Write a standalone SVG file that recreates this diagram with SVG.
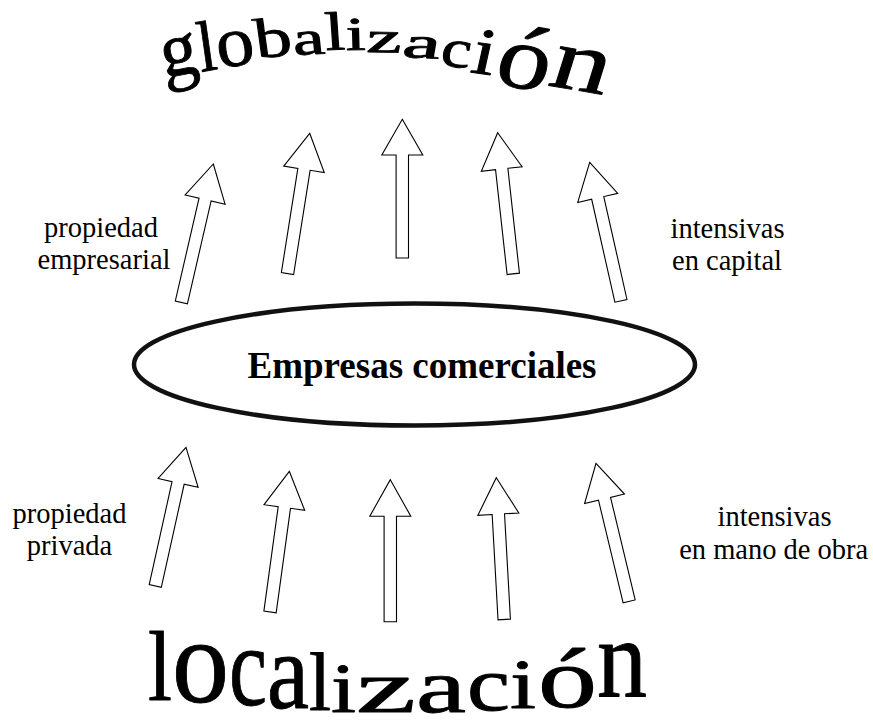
<svg xmlns="http://www.w3.org/2000/svg" width="873" height="722" viewBox="0 0 873 722">
<style>
.arrow{fill:#fff;stroke:#000;stroke-width:1.1;stroke-linejoin:miter}
.lbl{font-family:"Liberation Serif","Times New Roman",serif;font-size:28.5px;fill:#000;text-anchor:middle}
.big{font-family:"Liberation Serif","Times New Roman",serif;fill:#000;stroke:#000;stroke-width:0.9;stroke-linejoin:round}
.node{fill:#fff;stroke:#111;stroke-width:4.5}
.nodetxt{font-family:"Liberation Serif","Times New Roman",serif;font-weight:bold;font-size:37px;fill:#000;text-anchor:middle}
</style>
<defs>
<path id="arrow" d="M0,0 L20.5,36.5 L6.2,36.5 L6.2,142 L-6.2,142 L-6.2,36.5 L-20.5,36.5 Z"/>
</defs>
<rect width="873" height="722" fill="#fff"/>

<g id="globalizacion">
<text class="big">
<tspan x="164" y="78" font-size="78" textLength="37" lengthAdjust="spacingAndGlyphs" rotate="-10">g</tspan><tspan x="201" y="72" font-size="72" textLength="18" lengthAdjust="spacingAndGlyphs" rotate="-9">l</tspan><tspan x="219" y="68" font-size="72" textLength="38" lengthAdjust="spacingAndGlyphs" rotate="-8">o</tspan><tspan x="257" y="58" font-size="56" textLength="37" lengthAdjust="spacingAndGlyphs" rotate="-6">b</tspan><tspan x="294" y="55" font-size="48" textLength="32" lengthAdjust="spacingAndGlyphs" rotate="-4">a</tspan><tspan x="326" y="50" font-size="54" textLength="20" lengthAdjust="spacingAndGlyphs" rotate="-3">l</tspan><tspan x="346" y="50" font-size="47" textLength="20" lengthAdjust="spacingAndGlyphs" rotate="-1">i</tspan><tspan x="366" y="52" font-size="44" textLength="35" lengthAdjust="spacingAndGlyphs" rotate="2">z</tspan><tspan x="401" y="57" font-size="44" textLength="38" lengthAdjust="spacingAndGlyphs" rotate="5">a</tspan><tspan x="439" y="65" font-size="54" textLength="30" lengthAdjust="spacingAndGlyphs" rotate="8">c</tspan><tspan x="469" y="72" font-size="66" textLength="23" lengthAdjust="spacingAndGlyphs" rotate="10">i</tspan><tspan x="492" y="83" font-size="90" textLength="54" lengthAdjust="spacingAndGlyphs" rotate="12">ó</tspan><tspan x="546" y="85" font-size="87" textLength="59" lengthAdjust="spacingAndGlyphs" rotate="13">n</tspan>
</text>
</g>

<g id="label-propiedad-empresarial">
<text class="lbl" x="101" y="237">propiedad</text>
<text class="lbl" x="104" y="268.5">empresarial</text>
</g>
<g id="label-intensivas-capital">
<text class="lbl" x="727.5" y="237.7">intensivas</text>
<text class="lbl" x="727" y="269.5">en capital</text>
</g>

<g id="node-empresas">
<ellipse class="node" cx="414.5" cy="364.5" rx="280.5" ry="61"/>
<text class="nodetxt" x="422" y="377.7">Empresas comerciales</text>
</g>

<g id="label-propiedad-privada">
<text class="lbl" x="69.5" y="523.3">propiedad</text>
<text class="lbl" x="69.5" y="555">privada</text>
</g>
<g id="label-intensivas-mano">
<text class="lbl" x="774.5" y="526">intensivas</text>
<text class="lbl" x="773.7" y="559.3">en mano de obra</text>
</g>

<g id="localizacion">
<text class="big">
<tspan x="148" y="700" font-size="100" textLength="24" lengthAdjust="spacingAndGlyphs">l</tspan><tspan x="172" y="702" font-size="120" textLength="57" lengthAdjust="spacingAndGlyphs">o</tspan><tspan x="229" y="705" font-size="115" textLength="38" lengthAdjust="spacingAndGlyphs">c</tspan><tspan x="267" y="708" font-size="109" textLength="42" lengthAdjust="spacingAndGlyphs">a</tspan><tspan x="309" y="710" font-size="83" textLength="22" lengthAdjust="spacingAndGlyphs">l</tspan><tspan x="331" y="712" font-size="69" textLength="25" lengthAdjust="spacingAndGlyphs">i</tspan><tspan x="356" y="712" font-size="74" textLength="60" lengthAdjust="spacingAndGlyphs">z</tspan><tspan x="416" y="712" font-size="76" textLength="50" lengthAdjust="spacingAndGlyphs">a</tspan><tspan x="467" y="710" font-size="76" textLength="43" lengthAdjust="spacingAndGlyphs">c</tspan><tspan x="510" y="708" font-size="70" textLength="26" lengthAdjust="spacingAndGlyphs">i</tspan><tspan x="538" y="707" font-size="85" textLength="59" lengthAdjust="spacingAndGlyphs">ó</tspan><tspan x="597" y="697" font-size="113" textLength="50" lengthAdjust="spacingAndGlyphs">n</tspan>
</text>
</g>

<g id="connectors">
<use href="#arrow" class="arrow" transform="translate(213.3,164) rotate(13)"/>
<use href="#arrow" class="arrow" transform="translate(309.7,133.3) rotate(9)"/>
<use href="#arrow" class="arrow" transform="translate(402.3,119.3) scale(1,0.977)"/>
<use href="#arrow" class="arrow" transform="translate(497.7,132.7) rotate(-6.3)"/>
<use href="#arrow" class="arrow" transform="translate(589.7,162.3) rotate(-12.7)"/>
<use href="#arrow" class="arrow" transform="translate(186,447.3) rotate(12.5)"/>
<use href="#arrow" class="arrow" transform="translate(289.3,471.3) rotate(7.8)"/>
<use href="#arrow" class="arrow" transform="translate(390.3,479.7)"/>
<use href="#arrow" class="arrow" transform="translate(496.3,477.7) rotate(-3.2)"/>
<use href="#arrow" class="arrow" transform="translate(596,463.3) rotate(-13.5)"/>
</g>
</svg>
